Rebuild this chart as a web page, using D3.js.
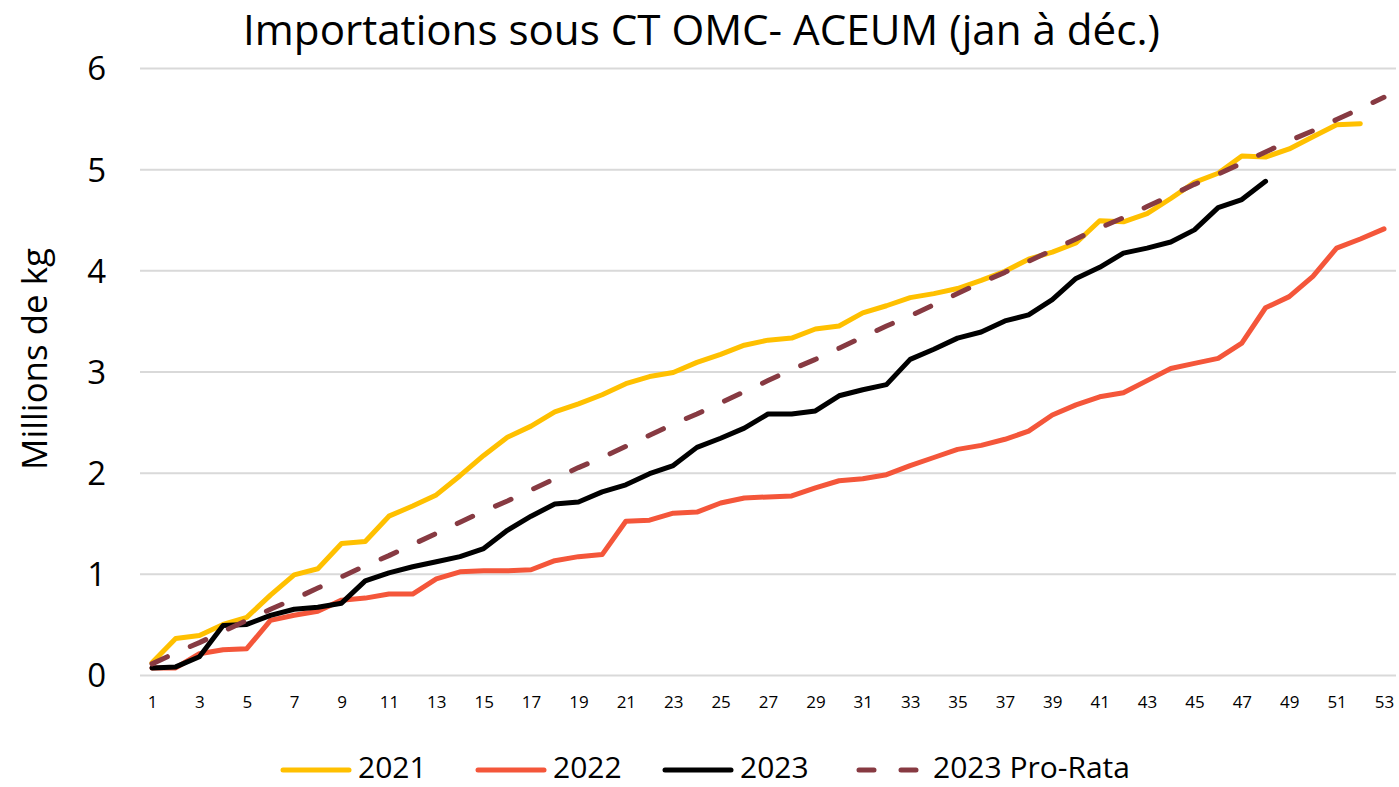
<!DOCTYPE html>
<html>
<head>
<meta charset="utf-8">
<script src="https://cdn.jsdelivr.net/npm/d3@7"></script>
<style>
  html, body { margin: 0; padding: 0; background: #fff; }
  svg { display: block; font-family: "Open Sans", "Noto Sans", sans-serif; }
</style>
</head>
<body>
<svg id="chart" width="1399" height="787"></svg>
<script>
// ---- data ----
const titleText = "Importations sous CT OMC- ACEUM (jan à déc.)";
const yAxisTitle = "Millions de kg";
const yTicks = [0, 1, 2, 3, 4, 5, 6];
const weeks = d3.range(1, 54);
const xTickLabels = [1,3,5,7,9,11,13,15,17,19,21,23,25,27,29,31,33,35,37,39,41,43,45,47,49,51,53];

const seriesNames = ["2021", "2022", "2023", "2023 Pro-Rata"];
const seriesColors = ["#FFC000", "#F4563A", "#000000", "#873A42"];

const values2021 = [0.12,0.36,0.39,0.50,0.57,0.79,0.99,1.05,1.30,1.32,1.57,1.67,1.78,1.97,2.17,2.35,2.46,2.60,2.68,2.77,2.88,2.95,2.99,3.09,3.17,3.26,3.31,3.33,3.42,3.45,3.58,3.65,3.73,3.77,3.82,3.90,3.99,4.11,4.18,4.27,4.49,4.48,4.56,4.71,4.87,4.96,5.13,5.12,5.20,5.32,5.44,5.45];
const values2022 = [0.07,0.07,0.21,0.25,0.26,0.54,0.59,0.63,0.74,0.76,0.80,0.80,0.95,1.02,1.03,1.03,1.04,1.13,1.17,1.19,1.52,1.53,1.60,1.61,1.70,1.75,1.76,1.77,1.85,1.92,1.94,1.98,2.07,2.15,2.23,2.27,2.33,2.41,2.57,2.67,2.75,2.79,2.91,3.03,3.08,3.13,3.28,3.63,3.74,3.94,4.22,4.31,4.41];
const values2023 = [0.07,0.08,0.18,0.49,0.50,0.59,0.65,0.67,0.71,0.93,1.01,1.07,1.12,1.17,1.25,1.43,1.57,1.69,1.71,1.81,1.88,1.99,2.07,2.25,2.34,2.44,2.58,2.58,2.61,2.76,2.82,2.87,3.12,3.22,3.33,3.39,3.50,3.56,3.71,3.92,4.03,4.17,4.22,4.28,4.40,4.62,4.70,4.88];
const values2023ProRata = [0.11,0.22,0.32,0.43,0.54,0.65,0.75,0.86,0.97,1.08,1.18,1.29,1.40,1.51,1.62,1.72,1.83,1.94,2.05,2.15,2.26,2.37,2.48,2.58,2.69,2.80,2.91,3.02,3.12,3.23,3.34,3.45,3.55,3.66,3.77,3.88,3.98,4.09,4.20,4.31,4.42,4.52,4.63,4.74,4.85,4.95,5.06,5.17,5.28,5.38,5.49,5.60,5.71];

const allSeries = [values2021, values2022, values2023, values2023ProRata];

// ---- layout ----
const svg = d3.select("#chart");
const plot = { left: 140, right: 1396, top: 68, bottom: 675 };

const x = d3.scaleLinear().domain([1, 53]).range([152, 1384]);
const y = d3.scaleLinear().domain([0, 6]).range([plot.bottom, plot.top]);

function fitText(sel, targetWidth, startSize) {
  sel.style("font-size", startSize + "px");
  const w = sel.node().getComputedTextLength();
  sel.style("font-size", (startSize * targetWidth / w) + "px");
}

// gridlines via axis
const yGrid = d3.axisLeft(y).tickValues(yTicks).tickSize(-(plot.right - plot.left)).tickFormat("");
svg.append("g")
  .attr("transform", `translate(${plot.left},0)`)
  .call(yGrid)
  .call(g => g.select(".domain").remove())
  .call(g => g.selectAll("line").attr("stroke", "#D9D9D9").attr("stroke-width", 2));

// y tick labels
const yAxis = d3.axisLeft(y).tickValues(yTicks).tickSize(0).tickPadding(0).tickFormat(d3.format("d"));
svg.append("g")
  .attr("transform", `translate(106,0)`)
  .call(yAxis)
  .call(g => g.select(".domain").remove())
  .call(g => g.selectAll("text")
      .attr("fill", "#000")
      .attr("font-family", "'Open Sans', sans-serif")
      .style("font-size", "33px")
      .attr("dy", "0.36em"));

// x tick labels
const xAxis = d3.axisBottom(x).tickValues(xTickLabels).tickSize(0).tickPadding(0).tickFormat(d3.format("d"));
svg.append("g")
  .attr("transform", `translate(0,696)`)
  .call(xAxis)
  .call(g => g.select(".domain").remove())
  .call(g => g.selectAll("text")
      .attr("fill", "#000")
      .attr("font-family", "'Open Sans', sans-serif")
      .style("font-size", "17px")
      .attr("dy", "0.72em"));

// lines
const line = d3.line().x((d, i) => x(weeks[i])).y(d => y(d));
allSeries.forEach((vals, i) => {
  const p = svg.append("path")
    .datum(vals)
    .attr("d", line)
    .attr("fill", "none")
    .attr("stroke", seriesColors[i])
    .attr("stroke-width", 5)
    .attr("stroke-linejoin", "round")
    .attr("stroke-linecap", "round");
  if (i === 3) p.attr("stroke-dasharray", "17,25");
});

// title
const title = svg.append("text")
  .attr("x", 701.5).attr("y", 45)
  .attr("text-anchor", "middle")
  .attr("fill", "#000")
  .text(titleText);
fitText(title, 917, 38);

// y axis title
const yt = svg.append("text")
  .attr("transform", "translate(47,359) rotate(-90)")
  .attr("text-anchor", "middle")
  .attr("fill", "#000")
  .text(yAxisTitle);
fitText(yt, 222, 32);

// legend
const legendStarts = [283, 478, 665, 857];
const legend = svg.append("g");
seriesNames.forEach((name, i) => {
  const g = legend.append("g").attr("transform", `translate(${legendStarts[i]},770)`);
  const ln = g.append("line")
    .attr("x1", 0).attr("x2", 66).attr("y1", 0).attr("y2", 0)
    .attr("stroke", seriesColors[i]).attr("stroke-width", 5)
    .attr("stroke-linecap", "round");
  if (i === 3) ln.attr("x1", 2).attr("x2", 62).attr("stroke-dasharray", "15,27");
  g.append("text")
    .attr("x", i === 3 ? 76 : 75).attr("y", 8)
    .attr("fill", "#000")
    .style("font-size", "30px")
    .text(name);
});
</script>
</body>
</html>
